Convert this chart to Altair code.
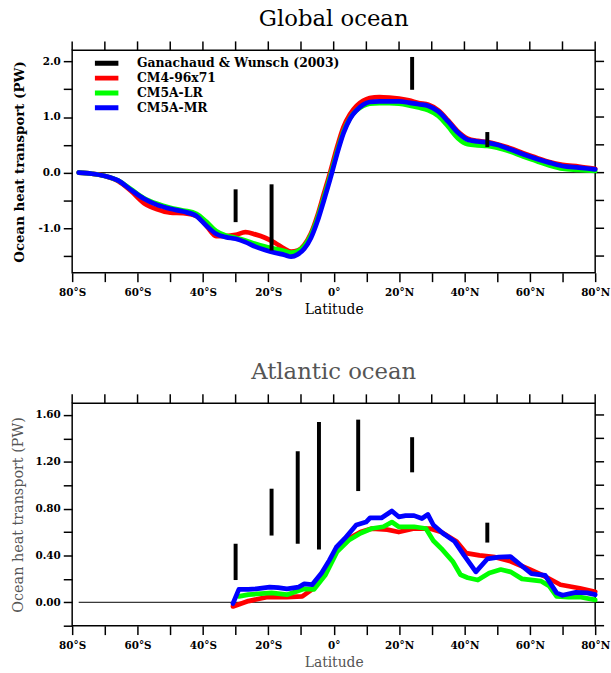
import altair as alt
import pandas as pd

# ---------------------------------------------------------------------------
# Series definitions
# ---------------------------------------------------------------------------
OBS_NAME = "Ganachaud & Wunsch (2003)"
MODELS = ["CM4-96x71", "CM5A-LR", "CM5A-MR"]
LEGEND_ORDER = [OBS_NAME] + MODELS
COLORS = ["#000000", "#ff0000", "#00ff00", "#0000ff"]

# Global ocean heat transport (PW), shared latitude grid
glob_lat = [-78, -74, -70, -66, -62, -58, -54, -50, -46, -42, -39, -36, -33, -30,
            -27, -24, -21, -18, -15, -13, -11, -9, -7, -5, -3, -1, 1, 3, 5, 7, 9,
            11, 14, 17, 20, 23, 26, 29, 32, 35, 38, 41, 44, 47, 50, 54, 58, 62,
            66, 70, 75, 80]
glob_cm4 = [0.0, -0.02, -0.06, -0.15, -0.33, -0.55, -0.66, -0.72, -0.73, -0.78,
            -0.95, -1.14, -1.14, -1.12, -1.07, -1.11, -1.17, -1.26, -1.37, -1.42,
            -1.40, -1.30, -1.10, -0.78, -0.38, 0.02, 0.45, 0.82, 1.05, 1.20, 1.29,
            1.34, 1.36, 1.35, 1.33, 1.30, 1.25, 1.22, 1.12, 0.94, 0.74, 0.61, 0.57,
            0.55, 0.51, 0.44, 0.35, 0.27, 0.19, 0.14, 0.11, 0.07]
glob_lr = [0.0, -0.02, -0.06, -0.14, -0.30, -0.46, -0.56, -0.63, -0.68, -0.74,
           -0.88, -1.05, -1.13, -1.17, -1.22, -1.28, -1.33, -1.37, -1.41, -1.44,
           -1.41, -1.32, -1.13, -0.83, -0.45, -0.05, 0.37, 0.74, 0.98, 1.12, 1.20,
           1.24, 1.25, 1.25, 1.24, 1.21, 1.17, 1.12, 1.02, 0.83, 0.62, 0.51, 0.49,
           0.48, 0.45, 0.38, 0.29, 0.21, 0.13, 0.07, 0.05, 0.03]
glob_mr = [0.0, -0.02, -0.06, -0.14, -0.31, -0.47, -0.58, -0.65, -0.70, -0.78,
           -0.95, -1.10, -1.16, -1.19, -1.25, -1.33, -1.39, -1.44, -1.48, -1.51,
           -1.47, -1.37, -1.18, -0.88, -0.50, -0.10, 0.33, 0.71, 0.97, 1.12, 1.22,
           1.27, 1.28, 1.28, 1.28, 1.26, 1.23, 1.20, 1.10, 0.92, 0.72, 0.59, 0.56,
           0.54, 0.50, 0.42, 0.33, 0.25, 0.18, 0.12, 0.09, 0.06]

glob_obs_lat = [-30, -19, 24, 47]
glob_obs_lo = [-0.89, -1.40, 1.49, 0.46]
glob_obs_hi = [-0.30, -0.21, 2.08, 0.73]

# Atlantic ocean heat transport (PW), one latitude list per model
atl_cm4_lat = [-30.8, -26.1, -20.2, -14.3, -9.6, -6.6, -2.5, 1.0, 4.6, 8.2, 11.7,
               16.4, 19.9, 24.6, 29.4, 32.9, 37.6, 40.5, 44.6, 49.4, 54.1, 60.0,
               64.7, 69.4, 75.3, 80.0]
atl_cm4 = [-0.035, 0.01, 0.045, 0.045, 0.05, 0.11, 0.25, 0.45, 0.545, 0.60, 0.63,
           0.62, 0.60, 0.63, 0.63, 0.60, 0.52, 0.42, 0.40, 0.385, 0.35, 0.28,
           0.22, 0.15, 0.12, 0.09]
atl_lr_lat = [-29.0, -26.1, -19.0, -14.3, -9.0, -6.0, -2.5, 1.0, 4.6, 8.2, 11.7,
              15.2, 17.8, 19.9, 24.6, 28.2, 30.5, 32.9, 36.4, 38.8, 41.0, 44.1,
              47.6, 51.1, 54.1, 57.6, 63.5, 65.9, 68.2, 71.8, 75.3, 80.0]
atl_lr = [0.05, 0.065, 0.08, 0.065, 0.115, 0.11, 0.235, 0.43, 0.53, 0.59, 0.63,
          0.645, 0.685, 0.645, 0.645, 0.63, 0.525, 0.46, 0.35, 0.235, 0.21, 0.19,
          0.25, 0.28, 0.26, 0.20, 0.18, 0.14, 0.05, 0.045, 0.045, 0.02]
atl_mr_lat = [-30.8, -29.0, -26.1, -23.7, -19.6, -17.0, -14.3, -10.7, -9.0, -6.6,
              -3.7, -1.3, 0.8, 3.4, 6.9, 9.9, 11.1, 14.6, 17.8, 19.9, 22.0, 24.6,
              27.0, 28.8, 30.5, 33.4, 37.0, 39.9, 43.5, 47.0, 50.5, 54.1, 57.6,
              60.5, 64.7, 68.2, 70.0, 74.1, 77.6, 80.0]
atl_mr = [-0.01, 0.11, 0.11, 0.115, 0.13, 0.125, 0.115, 0.13, 0.157, 0.15, 0.25,
          0.36, 0.47, 0.545, 0.66, 0.685, 0.72, 0.72, 0.78, 0.73, 0.74, 0.74,
          0.715, 0.75, 0.66, 0.59, 0.52, 0.40, 0.26, 0.37, 0.385, 0.39, 0.31,
          0.245, 0.23, 0.08, 0.06, 0.085, 0.08, 0.065]

atl_obs_lat = [-30, -19, -11, -4.5, 7.5, 24, 47]
atl_obs_lo = [0.19, 0.57, 0.50, 0.45, 0.95, 1.11, 0.51]
atl_obs_hi = [0.50, 0.97, 1.29, 1.54, 1.56, 1.41, 0.68]

# Reference line at zero across the model latitude range
zero_line = {"lat_start": [-78], "lat_end": [80], "pw": [0.0]}

# Axis tick positions
x_ticks = list(range(-80, 81, 10))
glob_y_ticks = [-1.5, -1.0, -0.5, 0.0, 0.5, 1.0, 1.5, 2.0]
atl_y_ticks = [-0.2, 0.0, 0.2, 0.4, 0.6, 0.8, 1.0, 1.2, 1.4, 1.6]


def long_table(pairs):
    frames = []
    for name, lats, vals in pairs:
        frames.append(pd.DataFrame({"lat": lats, "pw": vals, "model": name}))
    return pd.concat(frames, ignore_index=True)


glob_df = long_table([(MODELS[0], glob_lat, glob_cm4),
                      (MODELS[1], glob_lat, glob_lr),
                      (MODELS[2], glob_lat, glob_mr)])
atl_df = long_table([(MODELS[0], atl_cm4_lat, atl_cm4),
                     (MODELS[1], atl_lr_lat, atl_lr),
                     (MODELS[2], atl_mr_lat, atl_mr)])
glob_obs = pd.DataFrame({"lat": glob_obs_lat, "lo": glob_obs_lo,
                         "hi": glob_obs_hi, "source": OBS_NAME})
atl_obs = pd.DataFrame({"lat": atl_obs_lat, "lo": atl_obs_lo,
                        "hi": atl_obs_hi, "source": OBS_NAME})
zero_df = pd.DataFrame(zero_line)
x_tick_df = pd.DataFrame({"lat": x_ticks})

SERIF = "DejaVu Serif"
X_LABELS = ("datum.value % 20 == 0 ? (datum.value == 0 ? '0°' : "
            "abs(datum.value) + (datum.value < 0 ? '°S' : '°N')) : ''")
GLOB_Y_LABELS = ("datum.value % 1 == 0 ? (datum.value < 0 ? '-' : '') + "
                 "format(abs(datum.value), '.1f') : ''")
ATL_Y_LABELS = "abs(round(datum.value * 10)) % 4 == 0 ? format(datum.value, '.2f') : ''"

W, H, TICK_LEN = 529, 225, 9


def panel(lines, obs, ydomain, yticks, ylabels, title, title_color,
          ytitle_weight, ytitle_size, ytitle_color, ytitle_x, with_legend, interp):
    xs = alt.Scale(domain=[-80, 80], nice=False, zero=False)
    ys = alt.Scale(domain=ydomain, nice=False, zero=False)
    cs = alt.Scale(domain=LEGEND_ORDER, range=COLORS)

    x_axis = alt.Axis(values=x_ticks, labelExpr=X_LABELS, labelFont=SERIF,
                      labelFontSize=10.5, labelFontWeight="bold", labelColor="black",
                      labelPadding=6, labelOverlap=False, labelFlush=False,
                      title="Latitude", titleFont=SERIF, titleFontSize=14,
                      titleFontWeight="normal", titleColor=title_color,
                      titlePadding=5, tickSize=TICK_LEN, tickWidth=1.5,
                      tickColor="black", domain=False, grid=False)
    y_axis = alt.Axis(values=yticks, labelExpr=ylabels, labelFont=SERIF,
                      labelFontSize=10.5, labelFontWeight="bold", labelColor="black",
                      labelPadding=3, labelOverlap=False, labelFlush=False,
                      title="Ocean heat transport (PW)", titleFont=SERIF,
                      titleFontSize=ytitle_size, titleFontWeight=ytitle_weight,
                      titleColor=ytitle_color, titleX=ytitle_x, titleY=H / 2,
                      titleBaseline="middle", titleAlign="center",
                      tickSize=TICK_LEN, tickWidth=1.5, tickColor="black",
                      domain=False, grid=False)

    legend = None
    if with_legend:
        legend = alt.Legend(title=None, orient="none", legendX=23, legendY=6,
                            padding=0, symbolType="M -5 0 L 5 0", symbolSize=49,
                            symbolStrokeWidth=5, labelFont=SERIF,
                            labelFontSize=12.5, labelFontWeight="bold",
                            labelColor="black", labelOffset=30, labelLimit=400,
                            clipHeight=14.3, rowPadding=0)

    def xenc(field):
        return alt.X(field, scale=xs, axis=x_axis)

    def yenc(field):
        return alt.Y(field, scale=ys, axis=y_axis)

    zero = alt.Chart(zero_df).mark_rule(color="black", strokeWidth=1).encode(
        x=xenc("lat_start:Q"), x2="lat_end:Q", y=yenc("pw:Q"),
    )

    # outward ticks along the top and right frame edges
    top_ticks = alt.Chart(x_tick_df).mark_rule(color="black", strokeWidth=1.5).encode(
        x=xenc("lat:Q"), y=alt.value(0), y2=alt.value(-TICK_LEN),
    )
    y_tick_df = pd.DataFrame({"pw": yticks})
    right_ticks = alt.Chart(y_tick_df).mark_rule(color="black", strokeWidth=1.5).encode(
        y=yenc("pw:Q"), x=alt.value(W), x2=alt.value(W + TICK_LEN),
    )

    layers = [zero, top_ticks, right_ticks]
    for m in MODELS:
        layers.append(
            alt.Chart(lines).transform_filter(alt.datum.model == m)
            .mark_line(strokeWidth=4.8, interpolate=interp, strokeJoin="round",
                       strokeCap="round")
            .encode(
                x=xenc("lat:Q"), y=yenc("pw:Q"),
                color=alt.Color("model:N", scale=cs, legend=legend),
            )
        )

    layers.append(
        alt.Chart(obs).mark_rule(strokeWidth=4).encode(
            x=xenc("lat:Q"), y=yenc("lo:Q"), y2="hi:Q",
            color=alt.Color("source:N", scale=cs, legend=legend),
        )
    )

    return alt.layer(*layers).properties(
        width=W, height=H,
        title=alt.TitleParams(title, font=SERIF, fontSize=23, fontWeight="normal",
                              color=title_color, offset=10, anchor="middle"),
    )


top = panel(glob_df, glob_obs, [-1.8, 2.2], glob_y_ticks, GLOB_Y_LABELS,
            "Global ocean", "black", "bold", 13.5, "black", -53, True, "monotone")
bottom = panel(atl_df, atl_obs, [-0.2, 1.7], atl_y_ticks, ATL_Y_LABELS,
               "Atlantic ocean", "#555555", "normal", 14.5, "#555555", -54, False,
               "linear")

chart = (
    alt.vconcat(top, bottom, spacing=132, bounds="flush")
    .resolve_scale(color="independent")
    .properties(padding={"left": 10, "top": 3, "right": 0, "bottom": 0},
                background="white")
    .configure(font=SERIF)
    .configure_view(stroke="black", strokeWidth=1.5)
)

chart.save("out.html", embed_options={"renderer": "svg", "actions": False})
